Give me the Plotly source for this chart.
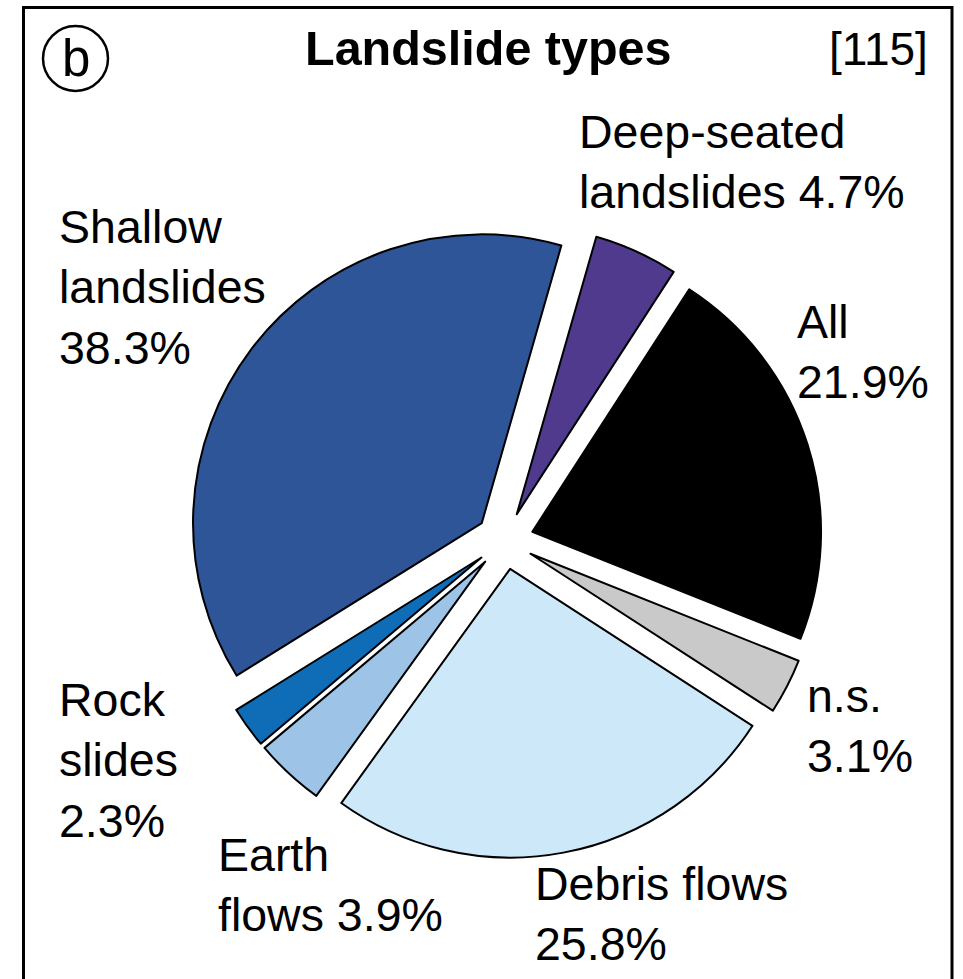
import plotly.graph_objects as go

# Data
categories = ["Deep-seated landslides", "All", "n.s.", "Debris flows",
              "Earth flows", "Rock slides", "Shallow landslides"]
display_names = ["Deep-seated<br>landslides", "All<br>", "n.s.<br>", "Debris flows<br>",
                 "Earth<br>flows", "Rock<br>slides<br>", "Shallow<br>landslides<br>"]
shares = [4.7, 21.9, 3.1, 25.8, 3.9, 2.3, 38.3]
colors = ["#4F3A8E", "#000000", "#C9C9C9", "#CDE8F9", "#9DC3E6", "#0F6DB8", "#2E5597"]
total_n = 115

W, H = 963, 979


def px(x):
    return x / W


def py(y):
    return 1 - y / H


fig = go.Figure(go.Pie(
    labels=categories,
    values=shares,
    sort=False,
    direction="clockwise",
    rotation=16,
    pull=[0.1] * len(shares),
    marker=dict(colors=colors, line=dict(color="black", width=2)),
    textinfo="none",
    hoverinfo="label+percent",
    showlegend=False,
    domain=dict(x=[px(187.2), px(822.4)], y=[py(858.1), py(222.9)]),
))

# label placement (pixel positions of top-left of text block)
label_pos = [(577, 104), (795, 294), (805, 668), (533, 856),
             (216, 827), (57, 672), (57, 199)]

FAM = "Liberation Sans, Arial, sans-serif"
font = dict(family=FAM, size=46.5, color="black")
annotations = []
for name, val, (x, y) in zip(display_names, shares, label_pos):
    text = f"{name}{val:.1f}%" if name.endswith("<br>") else f"{name} {val:.1f}%"
    annotations.append(dict(
        x=px(x), y=py(y), xref="paper", yref="paper",
        xanchor="left", yanchor="top", align="left",
        text=text, showarrow=False, font=font))

annotations.append(dict(x=px(488.5), y=py(48), xref="paper", yref="paper",
                        xanchor="center", yanchor="middle", showarrow=False,
                        text="<b>Landslide types</b>",
                        font=dict(family=FAM, size=48.5, color="black")))
annotations.append(dict(x=px(930), y=py(49), xref="paper", yref="paper",
                        xanchor="right", yanchor="middle", showarrow=False,
                        text=f"[{total_n}]", font=dict(family=FAM, size=46, color="black")))
annotations.append(dict(x=px(76), y=py(58), xref="paper", yref="paper",
                        xanchor="center", yanchor="middle", showarrow=False,
                        text="b", font=dict(family=FAM, size=51, color="black")))

shapes = [
    dict(type="rect", xref="paper", yref="paper",
         x0=px(23.5), x1=px(952), y0=-0.02, y1=py(7.5),
         line=dict(color="black", width=3), fillcolor="rgba(0,0,0,0)"),
    dict(type="circle", xref="paper", yref="paper",
         x0=px(43), x1=px(108), y0=py(91), y1=py(26),
         line=dict(color="black", width=2.5), fillcolor="rgba(0,0,0,0)"),
]

fig.update_layout(
    width=W, height=H,
    margin=dict(l=0, r=0, t=0, b=0),
    paper_bgcolor="white", plot_bgcolor="white",
    annotations=annotations, shapes=shapes,
)

fig.write_html("out.html", config={"displayModeBar": False},
               post_script="document.body.style.margin='0';document.body.style.overflow='hidden';")
